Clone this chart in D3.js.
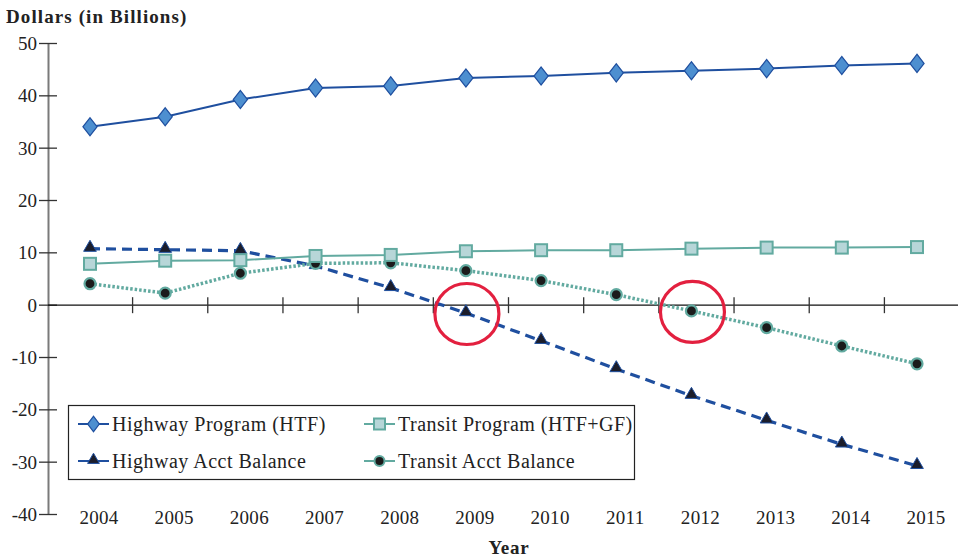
<!DOCTYPE html>
<html>
<head>
<meta charset="utf-8">
<script src="https://cdn.jsdelivr.net/npm/d3@7"></script>
<style>
  html, body { margin: 0; background: #fff; }
  svg { display: block; }
  text { font-family: 'Liberation Serif', 'DejaVu Serif', serif; fill: #222; }
</style>
</head>
<body>
<div id="chart"></div>
<script>
// data
var years = [2004, 2005, 2006, 2007, 2008, 2009, 2010, 2011, 2012, 2013, 2014, 2015];
var highwayProgram = [34.1, 36.0, 39.3, 41.5, 41.9, 43.4, 43.8, 44.4, 44.8, 45.2, 45.8, 46.2];
var transitProgram = [7.9, 8.5, 8.6, 9.4, 9.6, 10.3, 10.5, 10.5, 10.8, 11.0, 11.0, 11.1];
var highwayBalance = [10.8, 10.6, 10.4, 7.5, 3.3, -1.5, -6.8, -12.2, -17.3, -22.0, -26.6, -30.7];
var transitBalance = [4.1, 2.3, 6.1, 8.0, 8.1, 6.6, 4.7, 2.0, -1.1, -4.3, -7.8, -11.2];
var yTicks = [50, 40, 30, 20, 10, 0, -10, -20, -30, -40];
var circled = [{year: 2009, value: -1.5}, {year: 2012, value: -1.1}];

var width = 958, height = 559;

var svg = d3.select("#chart").append("svg")
    .attr("width", width)
    .attr("height", height);

var x = d3.scaleLinear().domain([2004, 2015]).range([90, 917]);
var y = d3.scaleLinear().domain([-40, 50]).range([514.5, 43.5]);

// y axis
var yAxis = svg.append("g");
yAxis.append("line")
    .attr("x1", 48.5).attr("x2", 48.5)
    .attr("y1", y(50)).attr("y2", y(-40))
    .attr("stroke", "#7a7a7a").attr("stroke-width", 2);
yAxis.selectAll("line.tick").data(yTicks).enter().append("line")
    .attr("class", "tick")
    .attr("x1", 39).attr("x2", 57)
    .attr("y1", function(d) { return y(d); })
    .attr("y2", function(d) { return y(d); })
    .attr("stroke", "#333").attr("stroke-width", 1.3);
yAxis.selectAll("text").data(yTicks).enter().append("text")
    .attr("x", 37)
    .attr("y", function(d) { return y(d); })
    .attr("dy", "0.35em")
    .attr("text-anchor", "end")
    .attr("font-size", 19)
    .text(function(d) { return d; });

// zero line with ticks between years
svg.append("line")
    .attr("x1", 48).attr("x2", width)
    .attr("y1", y(0)).attr("y2", y(0))
    .attr("stroke", "#111").attr("stroke-width", 1.3);
svg.selectAll("line.xtick").data(years.slice(0, -1)).enter().append("line")
    .attr("class", "xtick")
    .attr("x1", function(d) { return x(d + 0.5) + 5; })
    .attr("x2", function(d) { return x(d + 0.5) + 5; })
    .attr("y1", y(0) - 8).attr("y2", y(0) + 8)
    .attr("stroke", "#333").attr("stroke-width", 1.3);

// year labels
svg.selectAll("text.year").data(years).enter().append("text")
    .attr("class", "year")
    .attr("x", function(d) { return x(d) + 9; })
    .attr("y", 524)
    .attr("text-anchor", "middle")
    .attr("font-size", 19)
    .attr("letter-spacing", 0.3)
    .text(function(d) { return d; });

svg.append("text")
    .attr("x", 6).attr("y", 23)
    .attr("font-size", 19).attr("font-weight", "bold")
    .attr("letter-spacing", 1.1)
    .text("Dollars (in Billions)");
svg.append("text")
    .attr("x", 509).attr("y", 554)
    .attr("text-anchor", "middle")
    .attr("font-size", 19).attr("font-weight", "bold")
    .attr("letter-spacing", 0.8)
    .text("Year");

function series(vals) {
    return years.map(function(yr, i) { return {year: yr, value: vals[i]}; });
}
var line = d3.line()
    .x(function(d) { return x(d.year); })
    .y(function(d) { return y(d.value); });

var darkBlue = "#1f4f9f", teal = "#62aaa0";

// highway acct balance (dashed, triangles)
svg.append("path").datum(series(highwayBalance))
    .attr("d", line).attr("fill", "none")
    .attr("stroke", darkBlue).attr("stroke-width", 3.2)
    .attr("stroke-dasharray", "10,6");
var tri = d3.symbol().type(d3.symbolTriangle).size(70);
svg.selectAll("path.tri").data(series(highwayBalance)).enter().append("path")
    .attr("class", "tri")
    .attr("d", tri)
    .attr("transform", function(d) { return "translate(" + x(d.year) + "," + (y(d.value) - 1) + ")"; })
    .attr("fill", "#1b1d2b").attr("stroke", darkBlue).attr("stroke-width", 1);

// transit acct balance (dotted, circles)
svg.append("path").datum(series(transitBalance))
    .attr("d", line).attr("fill", "none")
    .attr("stroke", teal).attr("stroke-width", 3.5)
    .attr("stroke-dasharray", "2.5,2");
svg.selectAll("circle.tb").data(series(transitBalance)).enter().append("circle")
    .attr("class", "tb")
    .attr("cx", function(d) { return x(d.year); })
    .attr("cy", function(d) { return y(d.value); })
    .attr("r", 5.5)
    .attr("fill", "#1b1b1b").attr("stroke", teal).attr("stroke-width", 2.2);

// transit program (squares)
svg.append("path").datum(series(transitProgram))
    .attr("d", line).attr("fill", "none")
    .attr("stroke", teal).attr("stroke-width", 2);
svg.selectAll("rect.tp").data(series(transitProgram)).enter().append("rect")
    .attr("class", "tp")
    .attr("x", function(d) { return x(d.year) - 6; })
    .attr("y", function(d) { return y(d.value) - 6; })
    .attr("width", 12).attr("height", 12)
    .attr("fill", "#b7d6d8").attr("stroke", teal).attr("stroke-width", 2);

// highway program (diamonds)
svg.append("path").datum(series(highwayProgram))
    .attr("d", line).attr("fill", "none")
    .attr("stroke", darkBlue).attr("stroke-width", 2);
var dia = d3.symbol().type(d3.symbolDiamond).size(95);
svg.selectAll("path.hp").data(series(highwayProgram)).enter().append("path")
    .attr("class", "hp")
    .attr("d", dia)
    .attr("transform", function(d) { return "translate(" + x(d.year) + "," + y(d.value) + ") scale(1.35,1)"; })
    .attr("fill", "#4d8fd0").attr("stroke", darkBlue).attr("stroke-width", 1);

// red annotation circles
svg.selectAll("ellipse.note").data(circled).enter().append("ellipse")
    .attr("class", "note")
    .attr("cx", function(d) { return x(d.year) + 1; })
    .attr("cy", function(d) { return y(d.value) + 1; })
    .attr("rx", 32).attr("ry", 30.5)
    .attr("fill", "none").attr("stroke", "#e3203f").attr("stroke-width", 3.2);

// legend
var lg = svg.append("g");
lg.append("rect")
    .attr("x", 68.5).attr("y", 405.5)
    .attr("width", 566).attr("height", 74)
    .attr("fill", "#fff").attr("stroke", "#222").attr("stroke-width", 1.2);

var legendItems = [
    {label: "Highway Program (HTF)", col: 0, row: 0, kind: "diamond"},
    {label: "Transit Program (HTF+GF)", col: 1, row: 0, kind: "square"},
    {label: "Highway Acct Balance", col: 0, row: 1, kind: "triangle"},
    {label: "Transit Acct Balance", col: 1, row: 1, kind: "circle"}
];
var colX = [78, 364], rowY = [424, 461];
legendItems.forEach(function(it) {
    var lx = colX[it.col], ly = rowY[it.row];
    var c = (it.kind === "diamond" || it.kind === "triangle") ? darkBlue : teal;
    var g = lg.append("g");
    g.append("line").attr("x1", lx).attr("x2", lx + 31)
        .attr("y1", ly).attr("y2", ly)
        .attr("stroke", c).attr("stroke-width", 2);
    var cx = lx + 15.5;
    if (it.kind === "diamond") {
        g.append("path").attr("d", d3.symbol().type(d3.symbolDiamond).size(70))
            .attr("transform", "translate(" + cx + "," + ly + ") scale(1.3,1)")
            .attr("fill", "#4d8fd0").attr("stroke", darkBlue).attr("stroke-width", 1);
    } else if (it.kind === "square") {
        g.append("rect").attr("x", cx - 5.5).attr("y", ly - 5.5)
            .attr("width", 11).attr("height", 11)
            .attr("fill", "#b7d6d8").attr("stroke", teal).attr("stroke-width", 2);
    } else if (it.kind === "triangle") {
        g.append("path").attr("d", d3.symbol().type(d3.symbolTriangle).size(60))
            .attr("transform", "translate(" + cx + "," + (ly - 1) + ")")
            .attr("fill", "#1b1d2b").attr("stroke", darkBlue).attr("stroke-width", 1);
    } else {
        g.append("circle").attr("cx", cx).attr("cy", ly).attr("r", 5)
            .attr("fill", "#1b1b1b").attr("stroke", teal).attr("stroke-width", 2);
    }
    g.append("text")
        .attr("x", lx + 34).attr("y", ly)
        .attr("dy", "0.35em")
        .attr("font-size", 20)
        .attr("letter-spacing", 0.5)
        .text(it.label);
});
</script>
</body>
</html>
